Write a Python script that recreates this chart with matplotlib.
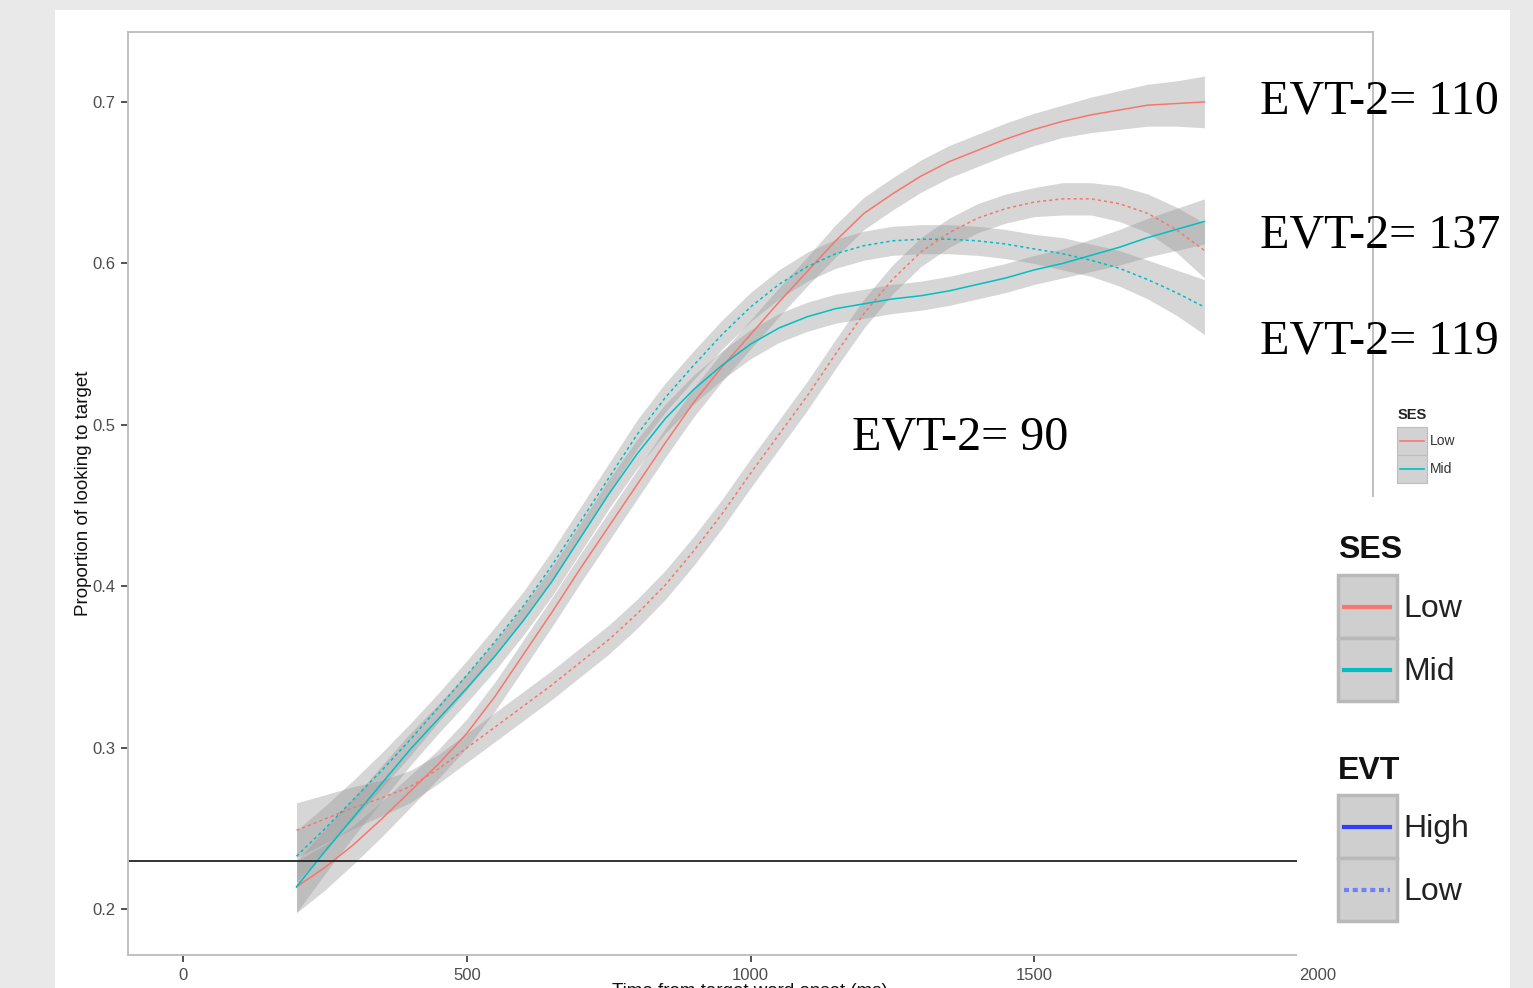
import matplotlib
matplotlib.use("Agg")
import matplotlib.pyplot as plt
from matplotlib.patches import Rectangle
from matplotlib.lines import Line2D

plt.rcParams['font.family'] = ['Liberation Sans', 'DejaVu Sans']

# Datos (tiempo en ms, proporción de mirada al objetivo)
time = [200, 250, 300, 350, 400, 450, 500, 550, 600, 650, 700, 750, 800,
        850, 900, 950, 1000, 1050, 1100, 1150, 1200, 1250, 1300, 1350,
        1400, 1450, 1500, 1550, 1600, 1650, 1700, 1750, 1800]

# SES Low / EVT High
low_high = [0.214, 0.226, 0.240, 0.256, 0.273, 0.290, 0.309, 0.332, 0.358,
            0.384, 0.411, 0.437, 0.463, 0.489, 0.514, 0.536, 0.556, 0.576,
            0.595, 0.614, 0.631, 0.643, 0.654, 0.663, 0.670, 0.677, 0.683,
            0.688, 0.692, 0.695, 0.698, 0.699, 0.700]
# SES Mid / EVT High
mid_high = [0.214, 0.236, 0.257, 0.278, 0.299, 0.318, 0.337, 0.357, 0.379,
            0.403, 0.430, 0.457, 0.482, 0.504, 0.522, 0.537, 0.550, 0.560,
            0.567, 0.572, 0.575, 0.578, 0.580, 0.583, 0.587, 0.591, 0.596,
            0.600, 0.605, 0.610, 0.616, 0.621, 0.626]
# SES Low / EVT Low
low_low = [0.249, 0.256, 0.263, 0.269, 0.276, 0.287, 0.300, 0.313, 0.326,
           0.339, 0.353, 0.367, 0.383, 0.401, 0.422, 0.445, 0.470, 0.494,
           0.518, 0.544, 0.569, 0.590, 0.607, 0.619, 0.628, 0.634, 0.638,
           0.640, 0.640, 0.637, 0.631, 0.621, 0.608]
# SES Mid / EVT Low
mid_low = [0.233, 0.250, 0.268, 0.286, 0.305, 0.325, 0.345, 0.366, 0.388,
           0.413, 0.440, 0.467, 0.494, 0.517, 0.537, 0.556, 0.573, 0.587,
           0.598, 0.606, 0.611, 0.614, 0.615, 0.615, 0.614, 0.612, 0.609,
           0.606, 0.602, 0.597, 0.590, 0.582, 0.573]

# semiamplitud del intervalo de confianza
ci_low_high = [0.016, 0.014, 0.012, 0.011, 0.010, 0.009, 0.009, 0.009, 0.009,
               0.009, 0.009, 0.009, 0.009, 0.009, 0.009, 0.009, 0.009, 0.009,
               0.009, 0.010, 0.010, 0.010, 0.010, 0.010, 0.010, 0.010, 0.010,
               0.010, 0.011, 0.012, 0.013, 0.014, 0.016]
ci_mid_high = [0.016, 0.014, 0.012, 0.011, 0.010, 0.009, 0.009, 0.009, 0.009,
               0.009, 0.009, 0.009, 0.009, 0.009, 0.009, 0.009, 0.009, 0.009,
               0.009, 0.009, 0.009, 0.009, 0.009, 0.009, 0.009, 0.009, 0.009,
               0.009, 0.010, 0.011, 0.012, 0.013, 0.014]
ci_low_low = [0.017, 0.015, 0.013, 0.011, 0.010, 0.009, 0.009, 0.009, 0.009,
              0.009, 0.009, 0.009, 0.009, 0.009, 0.009, 0.009, 0.009, 0.009,
              0.009, 0.009, 0.009, 0.009, 0.009, 0.009, 0.009, 0.009, 0.009,
              0.010, 0.010, 0.011, 0.012, 0.014, 0.017]
ci_mid_low = [0.016, 0.014, 0.012, 0.011, 0.010, 0.009, 0.009, 0.009, 0.009,
              0.009, 0.009, 0.009, 0.009, 0.009, 0.009, 0.009, 0.009, 0.009,
              0.009, 0.009, 0.009, 0.009, 0.009, 0.009, 0.009, 0.009, 0.009,
              0.010, 0.010, 0.011, 0.012, 0.014, 0.017]

chance = 0.23
x_ticks = [0, 500, 1000, 1500, 2000]
y_ticks = [0.2, 0.3, 0.4, 0.5, 0.6, 0.7]
evt_labels = ['EVT-2= 110', 'EVT-2= 137', 'EVT-2= 119', 'EVT-2= 90']

W, H = 1533, 988
RED = '#F8766D'
TEAL = '#00BFC4'


def fx(x):
    return x / W


def fy(y):
    return 1 - y / H


fig = plt.figure(figsize=(W / 100, H / 100), dpi=100, facecolor='#e9e9e9')

# panel blanco de la diapositiva
fig.add_artist(Rectangle((fx(55), 0), fx(1510) - fx(55), fy(10), transform=fig.transFigure,
                         facecolor='white', edgecolor='none', zorder=0))

ax = fig.add_axes([fx(128), fy(955), fx(1373) - fx(128), fy(32) - fy(955)])
ax.set_facecolor('white')

series = [
    (low_high, ci_low_high, RED, '-'),
    (mid_high, ci_mid_high, TEAL, '-'),
    (low_low, ci_low_low, RED, (0, (2, 2))),
    (mid_low, ci_mid_low, TEAL, (0, (2, 2))),
]
for vals, ci, col, ls in series:
    lo = [v - c for v, c in zip(vals, ci)]
    hi = [v + c for v, c in zip(vals, ci)]
    ax.fill_between(time, lo, hi, color='#999999', alpha=0.4, linewidth=0)
for vals, ci, col, ls in series:
    ax.plot(time, vals, color=col, linestyle=ls, linewidth=1.1)

ax.axhline(chance, color='#222222', linewidth=1.3)

ax.set_xlim(-97, 2097)
ax.set_ylim(0.1718, 0.7433)
ax.set_xticks(x_ticks)
ax.set_xticklabels([str(t) for t in x_ticks])
ax.set_yticks(y_ticks)
ax.set_yticklabels([f'{t:.1f}' for t in y_ticks])
ax.tick_params(colors='#333333', labelcolor='#4d4d4d', labelsize=12,
               length=5, width=1.2, pad=4)
for s in ax.spines.values():
    s.set_color('#c0c0c0')
    s.set_linewidth(1.4)

ax.set_ylabel('Proportion of looking to target', fontsize=13.5, color='#111111')
ax.yaxis.set_label_coords((92 - 128) / (1373 - 128), 0.5)
fig.text(fx(750), fy(983), 'Time from target word onset (ms)', fontsize=13.5,
         color='#111111', ha='center', va='top')

# parche blanco que tapa la esquina inferior derecha del panel
fig.add_artist(Rectangle((fx(1297), fy(963)), fx(1510) - fx(1297), fy(497) - fy(963),
                         transform=fig.transFigure, facecolor='white',
                         edgecolor='none', zorder=5))

# etiquetas EVT-2
evt_pos = [(1260, 113), (1260, 248), (1260, 353), (852, 449)]
for lab, (px, py) in zip(evt_labels, evt_pos):
    fig.text(fx(px), fy(py), lab, family='Liberation Serif', fontsize=34.7,
             color='black', ha='left', va='baseline', zorder=10)

# leyenda pequeña (original de ggplot)
fig.text(fx(1398), fy(415), 'SES', fontsize=10.5, fontweight='bold',
         color='#222222', va='center', zorder=10)
for i, (lab, col) in enumerate([('Low', RED), ('Mid', TEAL)]):
    top = 427 + i * 28
    fig.add_artist(Rectangle((fx(1397), fy(top + 28)), fx(30), 28 / H,
                             transform=fig.transFigure, facecolor='#d2d2d2',
                             edgecolor='#bdbdbd', linewidth=0.8, zorder=10))
    fig.add_artist(Line2D([fx(1400), fx(1424)], [fy(top + 14), fy(top + 14)],
                          transform=fig.transFigure, color=col, linewidth=1.2, zorder=11))
    fig.text(fx(1430), fy(top + 14), lab, fontsize=10, color='#333333',
             va='center', zorder=10)

# leyenda grande pegada encima
legends = [
    ('SES', 550, [('Low', RED, '-'), ('Mid', TEAL, '-')], 575),
    ('EVT', 771, [('High', '#2f3dff', '-'), ('Low', '#6f80ff', (0, (1.2, 0.9)))], 795),
]
for title, ty, items, top0 in legends:
    fig.text(fx(1338), fy(ty), title, fontsize=23, fontweight='bold',
             color='#111111', va='center', zorder=10)
    for i, (lab, col, ls) in enumerate(items):
        top = top0 + i * 63
        fig.add_artist(Rectangle((fx(1338), fy(top + 63)), fx(59), 63 / H,
                                 transform=fig.transFigure, facecolor='#cfcfcf',
                                 edgecolor='#b9b9b9', linewidth=2.5, zorder=10))
        fig.add_artist(Line2D([fx(1344), fx(1390)], [fy(top + 32), fy(top + 32)],
                              transform=fig.transFigure, color=col, linestyle=ls,
                              linewidth=3, zorder=11))
        fig.text(fx(1403), fy(top + 34), lab, fontsize=23, color='#222222',
                 va='center', zorder=10)

plt.savefig('out.png', dpi=100, facecolor=fig.get_facecolor())
